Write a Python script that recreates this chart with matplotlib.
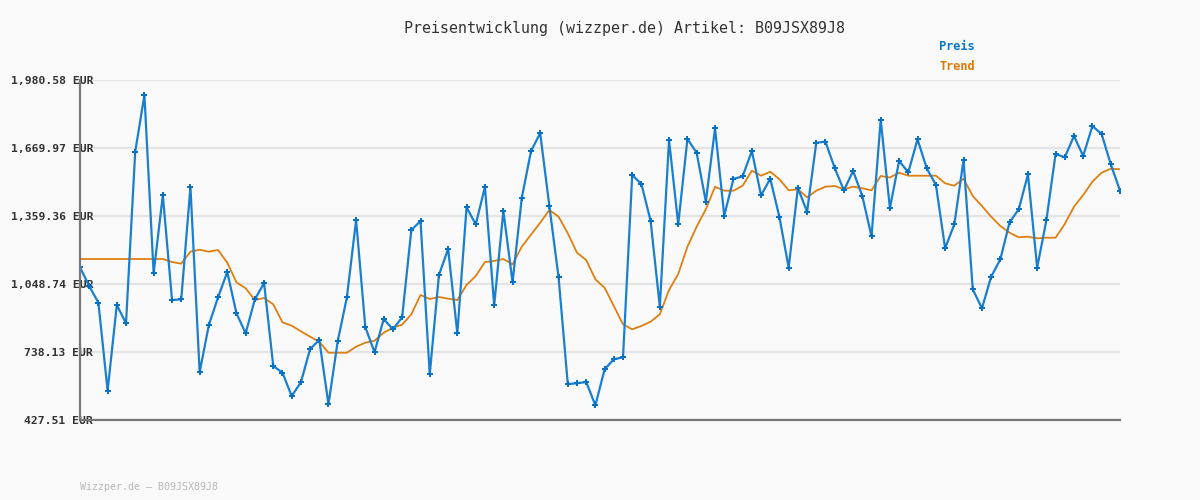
"""Preisentwicklung chart for wizzper.de article B09JSX89J8."""

import matplotlib
matplotlib.use("Agg")
import matplotlib.pyplot as plt

# ── Data ──
preis = [
    1125.0, 1039.6, 963.3, 561.3, 952.8, 869.2, 1653.1, 1912.1, 1097.6, 1453.9,
    975.6, 978.8, 1491.8, 645.4, 861.4, 988.0, 1103.5, 914.9, 823.5, 978.8,
    1053.3, 674.2, 643.6, 537.1, 599.7, 751.8, 792.9, 499.2, 787.0, 988.0,
    1341.1, 852.3, 736.7, 888.9, 841.8, 896.6, 1295.4, 1336.5, 636.3, 1089.8,
    1208.6, 823.5, 1399.1, 1321.4, 1491.8, 951.4, 1382.2, 1056.5, 1441.6, 1654.9,
    1738.5, 1403.7, 1079.3, 591.9, 595.1, 601.1, 494.6, 659.1, 704.8, 713.9,
    1546.6, 1505.5, 1336.5, 945.0, 1706.5, 1321.4, 1711.1, 1648.5, 1424.7, 1760.0,
    1360.7, 1528.4, 1540.7, 1656.3, 1453.9, 1529.7, 1353.4, 1123.2, 1487.3, 1379.0,
    1694.2, 1698.7, 1578.6, 1476.7, 1564.9, 1450.7, 1266.6, 1797.9, 1395.9, 1610.6,
    1559.0, 1709.7, 1577.2, 1501.0, 1211.8, 1321.4, 1615.2, 1024.5, 937.7, 1082.1,
    1161.6, 1330.6, 1390.0, 1549.8, 1123.2, 1339.7, 1642.6, 1627.5, 1724.8, 1633.4,
    1770.5, 1733.9, 1595.5, 1474.9,
]
trend = [
    1162.9, 1162.9, 1162.9, 1162.9, 1162.9, 1162.9, 1162.9, 1162.9, 1162.9, 1162.9,
    1149.2, 1141.5, 1196.3, 1205.4, 1196.3, 1204.0, 1146.0, 1056.5, 1029.1, 975.6,
    984.8, 956.0, 873.8, 858.3, 832.7, 808.0, 785.2, 734.9, 734.9, 734.9,
    762.3, 780.6, 789.7, 826.3, 849.1, 862.8, 910.3, 998.5, 980.2, 989.4,
    981.6, 975.6, 1044.2, 1085.3, 1149.2, 1153.8, 1162.9, 1138.7, 1219.1, 1273.9,
    1328.7, 1386.8, 1356.2, 1280.3, 1191.7, 1158.4, 1070.2, 1031.8, 948.2, 864.6,
    841.8, 856.9, 876.5, 910.3, 1021.3, 1094.4, 1219.1, 1310.5, 1390.0, 1493.2,
    1474.9, 1474.9, 1497.8, 1566.3, 1543.4, 1561.7, 1527.0, 1476.7, 1481.3, 1444.8,
    1474.9, 1493.2, 1496.4, 1481.3, 1493.2, 1485.9, 1476.7, 1542.1, 1535.2, 1557.1,
    1543.4, 1543.4, 1543.4, 1543.4, 1508.7, 1497.8, 1529.7, 1450.7, 1405.0, 1356.2,
    1313.7, 1283.1, 1262.1, 1264.8, 1257.5, 1260.2, 1260.2, 1322.8, 1401.8, 1455.3,
    1516.0, 1557.1, 1575.4, 1572.7,
]
y_ticks = [427.51, 738.13, 1048.74, 1359.36, 1669.97, 1980.58]
y_labels = ["427.51 EUR", "738.13 EUR", "1,048.74 EUR", "1,359.36 EUR",
            "1,669.97 EUR", "1,980.58 EUR"]

BLUE = "#1a7fd0"
ORANGE = "#e07f10"
BG = "#fafafa"

fig = plt.figure(figsize=(12, 5), dpi=100, facecolor=BG)
ax = fig.add_axes([80 / 1200, 80 / 500, 1040 / 1200, 340 / 500], facecolor=BG)

x = list(range(len(preis)))
ax.plot(x, trend, color=ORANGE, linewidth=1.3, zorder=3)
ax.plot(x, preis, color=BLUE, linewidth=1.6, marker="P", markersize=3.8,
        markerfacecolor="#0a72c4", markeredgewidth=0, zorder=4)

ax.set_xlim(0, len(preis) - 1)
ax.set_ylim(y_ticks[0], y_ticks[-1])
ax.set_xticks([])
ax.set_yticks(y_ticks)
ax.set_yticklabels(y_labels, fontfamily="DejaVu Sans Mono", fontweight="bold",
                   fontsize=8.2, color="#333333")
ax.tick_params(axis="y", length=0, pad=-9.5)
ax.yaxis.grid(True, color="#e4e4e4", linewidth=1.6)
ax.set_axisbelow(True)

for side in ("top", "right"):
    ax.spines[side].set_visible(False)
for side in ("left", "bottom"):
    ax.spines[side].set_color("#777777")
    ax.spines[side].set_linewidth(1.6)
    ax.spines[side].set_zorder(5)

fig.text(624 / 1200, 1 - 28 / 500, "Preisentwicklung (wizzper.de) Artikel: B09JSX89J8",
         ha="center", va="center", fontfamily="DejaVu Sans Mono", fontsize=10.8,
         color="#333333")
fig.text(939 / 1200, 1 - 47 / 500, "Preis", ha="left", va="center",
         fontfamily="DejaVu Sans Mono", fontweight="bold", fontsize=8.6, color="#0a78c8")
fig.text(939 / 1200, 1 - 67 / 500, "Trend", ha="left", va="center",
         fontfamily="DejaVu Sans Mono", fontweight="bold", fontsize=8.6, color="#dd7700")
fig.text(80 / 1200, 1 - 487 / 500, "Wizzper.de \u2013 B09JSX89J8", ha="left", va="center",
         fontfamily="DejaVu Sans Mono", fontsize=7.2, color="#b8b8b8")

fig.savefig("out.png", dpi=100, facecolor=BG)
plt.close("all")
